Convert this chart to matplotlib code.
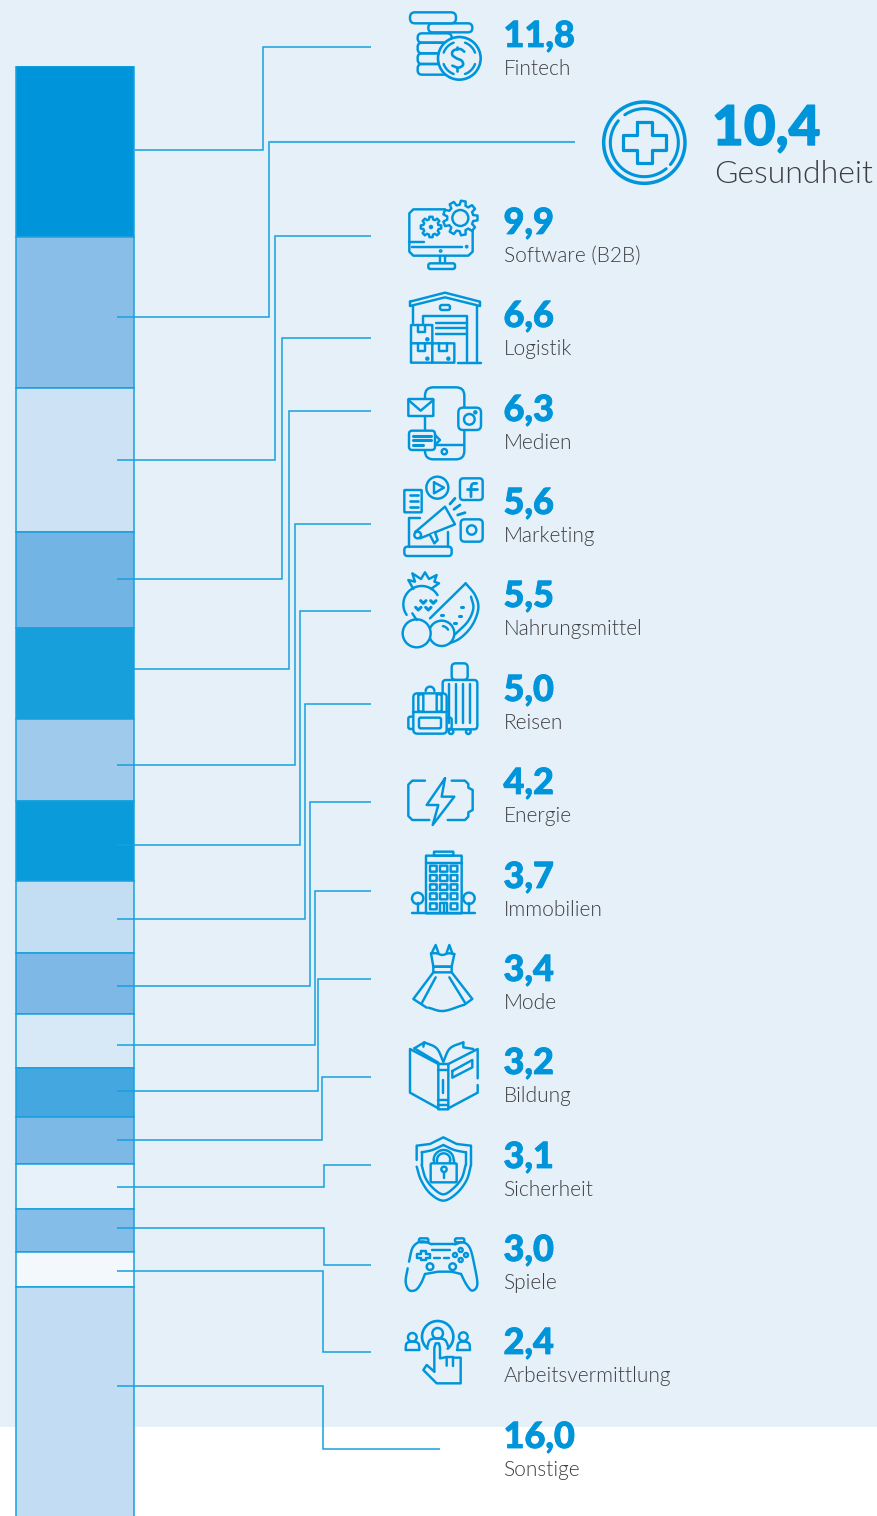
import numpy as np
import matplotlib
matplotlib.use("Agg")
import matplotlib.pyplot as plt
import matplotlib.patheffects as pe
from matplotlib.patches import FancyBboxPatch, Circle, Rectangle

# ============================================================
# Data
# ============================================================
CATEGORIES = ["Fintech", "Gesundheit", "Software (B2B)", "Logistik", "Medien", "Marketing",
              "Nahrungsmittel", "Reisen", "Energie", "Immobilien", "Mode", "Bildung",
              "Sicherheit", "Spiele", "Arbeitsvermittlung", "Sonstige"]
VALUES = [11.8, 10.4, 9.9, 6.6, 6.3, 5.6, 5.5, 5.0, 4.2, 3.7, 3.4, 3.2, 3.1, 3.0, 2.4, 16.0]
BAR_COLORS = ["#0095DA", "#88BEE8", "#CEE2F6", "#72B5E5", "#169FDB", "#9FCAEC", "#099BDA", "#C3DDF3",
              "#7DB8E6", "#D7E9F6", "#44A7DF", "#7CB9E7", "#E6F1FA", "#85BDE9", "#F2F8FC", "#C2DDF3"]

# ============================================================
# Layout (pixels)
# ============================================================
W, H = 877, 1516
BG = "#E5F0F9"
BLUE = "#0095DA"
LINE = "#18A0DE"
DARK = "#3E3E40"
ICON_LW = 1.75

NUM_Y = [47, None, 234, 327, 421, 514, 607, 701, 794, 888, 981, 1074, 1168, 1261, 1354, 1448]
LEAD_START = [150, 317, 460, 579, 669, 765, 845, 919, 986, 1045, 1091, 1140, 1187, 1228, 1271, 1386]
LEAD_MID = [263, 268.5, 275, 282, 289, 295, 300, 305, 310, 314.5, 318, 322, 324, 324, 323, 323]
LEAD_END = [47, 142, 235.5, 338, 411, 524, 611, 704, 802, 891, 979, 1077, 1165, 1265, 1352, 1449]

fig = plt.figure(figsize=(W / 100, H / 100), dpi=100, facecolor="white")

base = fig.add_axes([0, 0, 1, 1], zorder=0)
base.set_xlim(0, W)
base.set_ylim(H, 0)
base.axis("off")
base.add_patch(Rectangle((0, 0), W, 1427, fc=BG, ec="none"))

# ============================================================
# Stacked bar
# ============================================================
bar_ax = fig.add_axes([10 / W, 0, 130 / W, (H - 66) / H], zorder=1)
bar_ax.set_xlim(-65, 65)
bar_ax.set_ylim(99.85, 0)
bar_ax.axis("off")
bar_ax.patch.set_alpha(0)
bottom = 0
for value, color in zip(VALUES, BAR_COLORS):
    bar_ax.bar(0, value, width=118.5, bottom=bottom, color=color, edgecolor=LINE, linewidth=1.1)
    bottom += value

ax = fig.add_axes([0, 0, 1, 1], zorder=2)
ax.set_xlim(0, W)
ax.set_ylim(H, 0)
ax.axis("off")
ax.patch.set_alpha(0)

# ============================================================
# Leader lines
# ============================================================
for i in range(len(VALUES)):
    x_end = 371
    if i == 1:
        x_end = 575
    if i == 15:
        x_end = 440
    x_start = 135 if i == 0 else 117
    ax.plot([x_start, LEAD_MID[i], LEAD_MID[i], x_end],
            [LEAD_START[i], LEAD_START[i], LEAD_END[i], LEAD_END[i]],
            color=LINE, lw=1.1, solid_joinstyle="miter", solid_capstyle="butt")
# the Gesundheit line is a bit heavier on top
ax.plot([LEAD_MID[1], 575], [LEAD_END[1], LEAD_END[1]], color="#3DB0E4", lw=1.5, solid_capstyle="butt")

# ============================================================
# Icon helpers: coordinates are read from 3x crops, OX/OY is the crop corner
# ============================================================
OX, OY = 0, 0


def at(ox, oy):
    global OX, OY
    OX, OY = ox, oy


def tx(pts):
    pts = np.asarray(pts, dtype=float)
    return OX + pts[:, 0] / 3, OY + pts[:, 1] / 3


def ln(pts, lw=ICON_LW, fc=None):
    x, y = tx(pts)
    if fc:
        ax.fill(x, y, fc=fc, ec="none", zorder=3)
    ax.plot(x, y, color=BLUE, lw=lw, solid_capstyle="round", solid_joinstyle="round", zorder=3)


def curve(pts, lw=ICON_LW, fc=None):
    # Catmull-Rom through the points
    p = np.asarray(pts, dtype=float)
    p = np.vstack([2 * p[0] - p[1], p, 2 * p[-1] - p[-2]])
    out = []
    for i in range(1, len(p) - 2):
        for t in np.linspace(0, 1, 10):
            out.append(0.5 * (2 * p[i] + (p[i + 1] - p[i - 1]) * t
                              + (2 * p[i - 1] - 5 * p[i] + 4 * p[i + 1] - p[i + 2]) * t ** 2
                              + (3 * p[i] - p[i - 1] - 3 * p[i + 1] + p[i + 2]) * t ** 3))
    ln(out, lw, fc)


def rr(x0, y0, x1, y1, r=8, fc="none", lw=ICON_LW):
    a, b = tx([(x0, y0), (x1, y1)])
    ax.add_patch(FancyBboxPatch((a[0], b[0]), a[1] - a[0], b[1] - b[0],
                                boxstyle=f"round,pad=0,rounding_size={r / 3}",
                                fc=fc, ec=BLUE, lw=lw, zorder=3))


def circ(cx, cy, r, fc="none", lw=ICON_LW):
    a, b = tx([(cx, cy)])
    ax.add_patch(Circle((a[0], b[0]), r / 3, fc=fc, ec=BLUE, lw=lw, zorder=3))


def arc(cx, cy, r, a0, a1, lw=ICON_LW):
    t = np.radians(np.linspace(a0, a1, 40))
    ln(np.column_stack([cx + r * np.cos(t), cy - r * np.sin(t)]), lw)


def gear(cx, cy, r, teeth=8, lw=ICON_LW):
    pts = []
    step = 2 * np.pi / teeth
    for k in range(teeth):
        a = k * step
        for da, rad in [(-0.30, 0.76), (-0.18, 1.0), (0.18, 1.0), (0.30, 0.76)]:
            b = a + da * step * 1.1
            pts.append((cx + r * rad * np.cos(b), cy + r * rad * np.sin(b)))
    pts.append(pts[0])
    ln(pts, lw, fc=BG)


# ============================================================
# Icons
# ============================================================
# Fintech
at(395, 0)
rr(68, 100, 170, 128, 13)
rr(68, 128, 170, 160, 13)
rr(68, 160, 170, 192, 13)
rr(68, 192, 170, 224, 13)
rr(100, 70, 232, 97, 13, fc=BG)
rr(45, 37, 183, 70, 15, fc=BG)
circ(193, 175, 64, fc=BG, lw=1.9)
arc(193, 175, 50, 20, 70)
arc(193, 175, 50, 110, 160)
arc(193, 175, 50, 200, 250)
arc(193, 175, 50, 290, 340)
curve([(208, 155), (195, 147), (175, 152), (172, 165), (185, 175), (200, 182), (204, 195), (190, 203), (172, 197)], lw=1.9)
ln([(187, 140), (187, 147)], lw=1.9)
ln([(187, 203), (187, 212)], lw=1.9)

# Gesundheit
at(400, 90)
circ(733, 158, 122, lw=2.5)
arc(733, 158, 102, -40, 125, lw=2.2)
arc(733, 158, 102, 140, 310, lw=2.2)
ln([(711, 97), (755, 97), (755, 135), (797, 135), (797, 180), (755, 180), (755, 220), (711, 220),
    (711, 180), (670, 180), (670, 135), (711, 135), (711, 97)], lw=2.3)

# Software
ln([(135, 358), (40, 358), (28, 370), (28, 485), (40, 497), (205, 497), (218, 485), (218, 420)])
ln([(28, 455), (72, 455)])
ln([(35, 470), (185, 470)])
ln([(120, 497), (120, 520)])
ln([(135, 497), (135, 520)])
rr(85, 520, 165, 537, 6)
gear(181, 384, 52, 9)
circ(181, 384, 24)
gear(93, 411, 31, 8)
circ(93, 411, 3, fc=BLUE)
circ(200, 470, 2, fc=BLUE)
circ(122, 483, 2, fc=BLUE)

# Logistik
at(395, 280)
ln([(45, 65), (150, 38), (255, 65), (255, 78), (150, 52), (45, 78), (45, 65)])
rr(135, 75, 165, 90, 6)
ln([(55, 78), (55, 130)])
ln([(245, 78), (245, 248)])
ln([(188, 248), (258, 248)])
ln([(85, 130), (85, 107), (215, 107), (215, 248)])
for y in [128, 145, 162]:
    ln([(122, y), (215, y)])
rr(48, 135, 112, 190, 1, fc=BG)
rr(48, 190, 112, 248, 1, fc=BG)
rr(112, 190, 178, 248, 1, fc=BG)
ln([(68, 135), (68, 157), (90, 157), (90, 135)])
ln([(68, 190), (68, 212), (90, 212), (90, 190)])
ln([(132, 190), (132, 212), (155, 212), (155, 190)])
circ(97, 178, 3, fc=BLUE)
circ(97, 236, 3, fc=BLUE)
circ(160, 236, 3, fc=BLUE)

# Medien
rr(90, 322, 208, 538, 25)
ln([(90, 495), (208, 495)])
circ(148, 515, 8)
rr(40, 357, 115, 408, 2, fc=BG)
ln([(40, 360), (77, 392), (115, 360)])
rr(42, 452, 120, 510, 10, fc=BG)
ln([(120, 465), (135, 480), (120, 495)])
for y, x1 in [(467, 108), (480, 108), (494, 85)]:
    ln([(55, y), (x1, y)], lw=2.2)
rr(190, 383, 258, 450, 14, fc=BG)
circ(223, 418, 16)
circ(241, 397, 3, fc=BLUE)

# Marketing
rr(28, 630, 80, 697, 2)
for y in [645, 662, 680]:
    ln([(45, y), (68, y)], lw=1.9)
circ(127, 623, 33)
ln([(117, 607), (147, 623), (117, 640), (117, 607)])
rr(195, 595, 263, 660, 10)
curve([(245, 610), (232, 612), (228, 625), (228, 650)], lw=2.0)
ln([(215, 628), (245, 628)], lw=2.0)
rr(197, 718, 263, 785, 12)
circ(230, 750, 14)
ln([(75, 715), (42, 715), (42, 800)])
ln([(158, 755), (158, 800)])
rr(28, 800, 170, 828, 10)
ln([(62, 755), (150, 680), (180, 733), (75, 775), (62, 755)], fc=BG)
circ(68, 765, 10, fc=BG)
ln([(105, 765), (118, 790), (128, 780), (120, 757)], fc=BG)
ln([(165, 672), (180, 655)], lw=2.0)
ln([(177, 688), (195, 675)], lw=2.0)
ln([(188, 705), (210, 698)], lw=2.0)

# Nahrungsmittel
at(395, 565)
arc(80, 118, 55, 30, 215)
ln([(55, 72), (40, 45), (60, 50), (52, 25), (78, 42), (90, 22), (102, 42), (125, 30), (118, 50), (132, 55), (108, 72)])
for hx, hy in [(85, 110), (115, 110), (70, 130), (100, 130)]:
    ln([(hx - 8, hy - 3), (hx, hy + 5), (hx + 8, hy - 3)], lw=2.2)
curve([(212, 55), (240, 90), (250, 130), (232, 180), (195, 220), (150, 240)])
ln([(105, 160), (212, 55)])
curve([(228, 95), (235, 130), (218, 170), (180, 208)])
for sx, sy in [(200, 127), (195, 152), (180, 173), (140, 150)]:
    ln([(sx - 3, sy), (sx + 3, sy)], lw=2.2)
circ(140, 205, 38, fc=BG)
arc(140, 205, 22, 30, 80)
circ(65, 205, 42, fc=BG)
ln([(65, 165), (52, 145)])

# Reisen
rr(170, 295, 218, 345, 12)
rr(143, 345, 247, 493, 10, fc=BG)
for x in [162, 182, 205, 225]:
    ln([(x, 358), (x, 475)])
circ(168, 500, 7, fc=BG)
circ(220, 500, 7, fc=BG)
rr(40, 455, 60, 492, 6)
rr(150, 458, 170, 492, 6)
arc(105, 378, 13, 0, 180)
rr(55, 385, 155, 506, 12, fc=BG)
ln([(55, 440), (155, 440)])
rr(70, 388, 85, 440, 2)
rr(125, 388, 140, 440, 2)
rr(72, 458, 138, 490, 5)

# Energie
ln([(90, 647), (52, 647), (40, 659), (40, 753), (52, 765), (103, 765)])
ln([(170, 647), (210, 647), (220, 657), (220, 668), (233, 675), (233, 735), (220, 742), (220, 755), (210, 765), (158, 765)])
ln([(150, 640), (95, 720), (130, 720), (113, 780), (178, 695), (140, 695), (150, 640)])

# Immobilien
at(395, 840)
rr(117, 35, 175, 47, 1)
rr(93, 47, 200, 220, 1)
ln([(93, 68), (200, 68)])
for x0, x1 in [(105, 125), (135, 157), (167, 187)]:
    for y0, y1 in [(77, 95), (105, 123), (133, 150), (160, 178), (190, 208)]:
        if x0 == 135 and y0 == 190:
            continue
        rr(x0, y0, x1, y1, 1)
ln([(135, 220), (135, 190), (157, 190), (157, 220)])
ln([(146, 190), (146, 220)])
ln([(52, 220), (240, 220)])
circ(68, 175, 17)
circ(222, 175, 17)
ln([(68, 190), (68, 220)])
ln([(222, 190), (222, 220)])

# Mode
ln([(112, 335), (122, 315), (130, 338)])
ln([(155, 338), (163, 315), (172, 340)])
curve([(108, 340), (125, 340), (142, 345), (160, 340), (178, 342)])
ln([(108, 340), (115, 380), (170, 380), (178, 342)])
rr(115, 380, 170, 397, 1)
ln([(115, 397), (55, 477), (95, 503)])
ln([(170, 397), (232, 477), (207, 495)])
curve([(100, 503), (145, 513), (205, 495)])
ln([(122, 412), (80, 490)])
ln([(163, 412), (210, 488)])

# Bildung
ln([(130, 672), (45, 627), (45, 758), (130, 805)])
ln([(160, 672), (248, 627), (248, 715)])
ln([(248, 735), (248, 758), (160, 805)])
rr(130, 672, 160, 808, 1)
for y in [690, 780, 795]:
    ln([(130, y), (160, y)])
ln([(145, 720), (145, 760)])
ln([(58, 625), (88, 607), (85, 620)])
curve([(88, 607), (125, 625), (145, 665)])
curve([(145, 665), (165, 625), (205, 607)])
ln([(205, 607), (205, 622), (235, 627)])
ln([(58, 625), (130, 668)])
ln([(172, 693), (232, 660), (232, 682), (172, 713), (172, 693)])

# Sicherheit
at(395, 1125)
ln([(65, 105), (65, 62), (105, 57), (145, 37), (185, 57), (228, 62), (228, 120)])
curve([(228, 120), (215, 165), (185, 205), (145, 227), (105, 205), (78, 165), (65, 125)])
curve([(145, 60), (112, 75), (80, 82)])
curve([(145, 60), (178, 75), (212, 82)])
ln([(80, 82), (80, 120)])
ln([(212, 82), (212, 120)])
curve([(212, 120), (200, 160), (175, 190), (145, 208), (115, 190), (92, 160), (80, 120)])
rr(107, 115, 185, 172, 4)
arc(146, 105, 30, 0, 180)
arc(146, 105, 20, 0, 180)
ln([(116, 105), (116, 115)])
ln([(176, 105), (176, 115)])
ln([(126, 105), (126, 115)])
ln([(166, 105), (166, 115)])
circ(147, 133, 8)
ln([(147, 141), (147, 158)])

# Spiele
rr(72, 340, 100, 352, 5)
rr(180, 340, 208, 352, 5)
curve([(110, 358), (90, 350), (70, 352), (52, 370), (42, 410)])
curve([(38, 430), (32, 470), (42, 495), (62, 495), (78, 475), (90, 447)])
ln([(90, 447), (130, 440), (170, 440), (198, 447)])
curve([(198, 447), (215, 480), (232, 497), (247, 478), (238, 420), (225, 370), (205, 352), (180, 358)])
ln([(110, 358), (180, 358)])
ln([(110, 375), (165, 375)])
ln([(118, 398), (135, 398)])
ln([(148, 398), (163, 398)])
ln([(78, 378), (92, 378), (92, 386), (104, 386), (104, 398), (92, 398), (92, 406), (78, 406), (78, 398),
    (66, 398), (66, 386), (78, 386), (78, 378)])
for bx, by in [(197, 375), (213, 390), (197, 405), (180, 390)]:
    circ(bx, by, 6)
circ(105, 425, 10)
circ(173, 425, 10)

# Arbeitsvermittlung
arc(128, 635, 47, -50, 230, lw=1.9)
circ(128, 625, 16)
curve([(97, 665), (105, 645), (128, 640), (150, 645), (160, 665)])
circ(52, 637, 13)
ln([(32, 675), (73, 675)])
curve([(32, 675), (35, 655), (52, 650), (70, 655), (73, 675)])
circ(205, 635, 13)
ln([(187, 675), (225, 675)])
curve([(187, 675), (190, 655), (205, 650), (222, 655), (225, 675)])
ln([(118, 740), (118, 668), (122, 655), (132, 655), (135, 668), (135, 700), (155, 696), (155, 722)], fc=BG)
ln([(155, 696), (175, 696), (175, 722)])
ln([(175, 698), (197, 698), (197, 775), (125, 775), (85, 735), (95, 720), (118, 740)])

# ============================================================
# Text
# ============================================================
for i, cat in enumerate(CATEGORIES):
    num = f"{VALUES[i]:.1f}".replace(".", ",")
    if i == 1:
        ax.text(712, 145, num, color=BLUE, family="Lato", weight=900, fontsize=39.5, va="baseline",
                path_effects=[pe.withStroke(linewidth=1.0, foreground=BLUE)])
        ax.text(714, 183, cat, color=DARK, family="Lato", weight=300, fontsize=23, va="baseline")
    else:
        ax.text(503.5, NUM_Y[i], num, color=BLUE, family="Lato", weight=900, fontsize=26, va="baseline",
                path_effects=[pe.withStroke(linewidth=0.6, foreground=BLUE)])
        ax.text(503.5, NUM_Y[i] + 28, cat, color=DARK, family="Lato", weight=300, fontsize=15, va="baseline")

fig.savefig("out.png", dpi=100, facecolor="white")
